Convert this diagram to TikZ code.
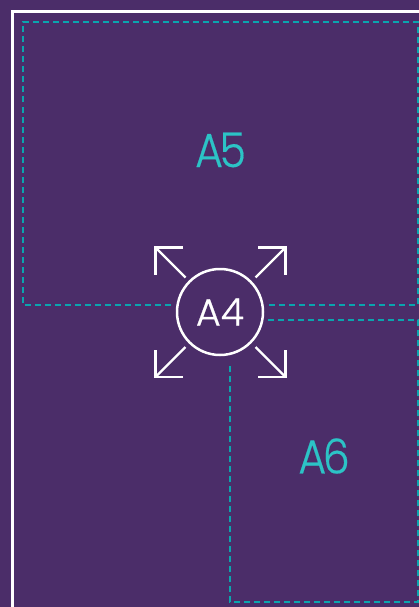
\documentclass[tikz,border=0pt]{standalone}
\usepackage{fontspec}
\setmainfont{Poppins}[UprightFont=* Light]
\newfontfamily\zonefont{Poppins}[UprightFont=* Light,FakeStretch=0.89,FakeBold=0.35]
\newfontfamily\centrefont{Poppins}[UprightFont=* Light,FakeBold=0.6]
\definecolor{bgpurple}{HTML}{4B2D69}
\definecolor{dashteal}{HTML}{0AA5AE}
\definecolor{labelteal}{HTML}{2CC3C6}
\tikzset{
  zonedash/.style={draw=dashteal,line width=2pt,dash pattern=on 6pt off 4pt},
  whiteline/.style={draw=white,line width=2.5pt},
  expandarm/.style={draw=white,line width=2.2pt,line cap=butt,line join=miter},
  zonelabel/.style={text=labelteal,font=\zonefont\fontsize{48}{48}\selectfont,inner sep=0pt},
}
\begin{document}
\begin{tikzpicture}[x=1pt,y=-1pt]
\useasboundingbox (0,0) rectangle (419,607);
\fill[bgpurple] (0,0) rectangle (419,607);
\coordinate (ftr) at (419,11.5);
\coordinate (ftl) at (12.5,11.5);
\coordinate (fbl) at (12.5,607);
\draw[whiteline] (ftr) -- (ftl) -- (fbl);
% A5 zone
\coordinate (a5a) at (171,304.5);
\coordinate (a5b) at (23,304.5);
\coordinate (a5c) at (23,22.5);
\coordinate (a5d) at (418,22.5);
\coordinate (a5e) at (418,304.5);
\coordinate (a5f) at (269,304.5);
\draw[zonedash] (a5a) -- (a5b) -- (a5c) -- (a5d) -- (a5e) -- (a5f);
% A6 zone
\coordinate (a6a) at (268,320);
\coordinate (a6b) at (418,320);
\coordinate (a6c) at (418,601.5);
\coordinate (a6d) at (229.5,601.5);
\coordinate (a6e) at (229.5,362);
\draw[zonedash] (a6a) -- (a6b) -- (a6c) -- (a6d) -- (a6e);
% Labels
\node[zonelabel] (a5) at (220.5,150) {A\kern-3.5pt 5};
\node[zonelabel] (a6) at (324,456) {A\kern-3.5pt 6};
% Central circle
\node[draw=white,line width=2.5pt,circle,minimum size=86pt,inner sep=0pt,text=white,font=\centrefont\fontsize{38}{38}\selectfont] (a4) at (220,312) {A4};
% Corner arrows
\coordinate (tl) at (155.5,247.5);
\coordinate (tr) at (285.5,247.5);
\coordinate (bl) at (155.5,377);
\coordinate (br) at (285.5,377);
\draw[expandarm] (183,247.5) -- (tl) -- (155.5,274.5);
\draw[expandarm] (tl) -- (185.5,277.5);
\draw[expandarm] (258,247.5) -- (tr) -- (285.5,274.5);
\draw[expandarm] (tr) -- (255.5,277.5);
\draw[expandarm] (183,377) -- (bl) -- (155.5,350);
\draw[expandarm] (bl) -- (185.5,347);
\draw[expandarm] (258,377) -- (br) -- (285.5,350);
\draw[expandarm] (br) -- (255.5,347);
\end{tikzpicture}
\end{document}
